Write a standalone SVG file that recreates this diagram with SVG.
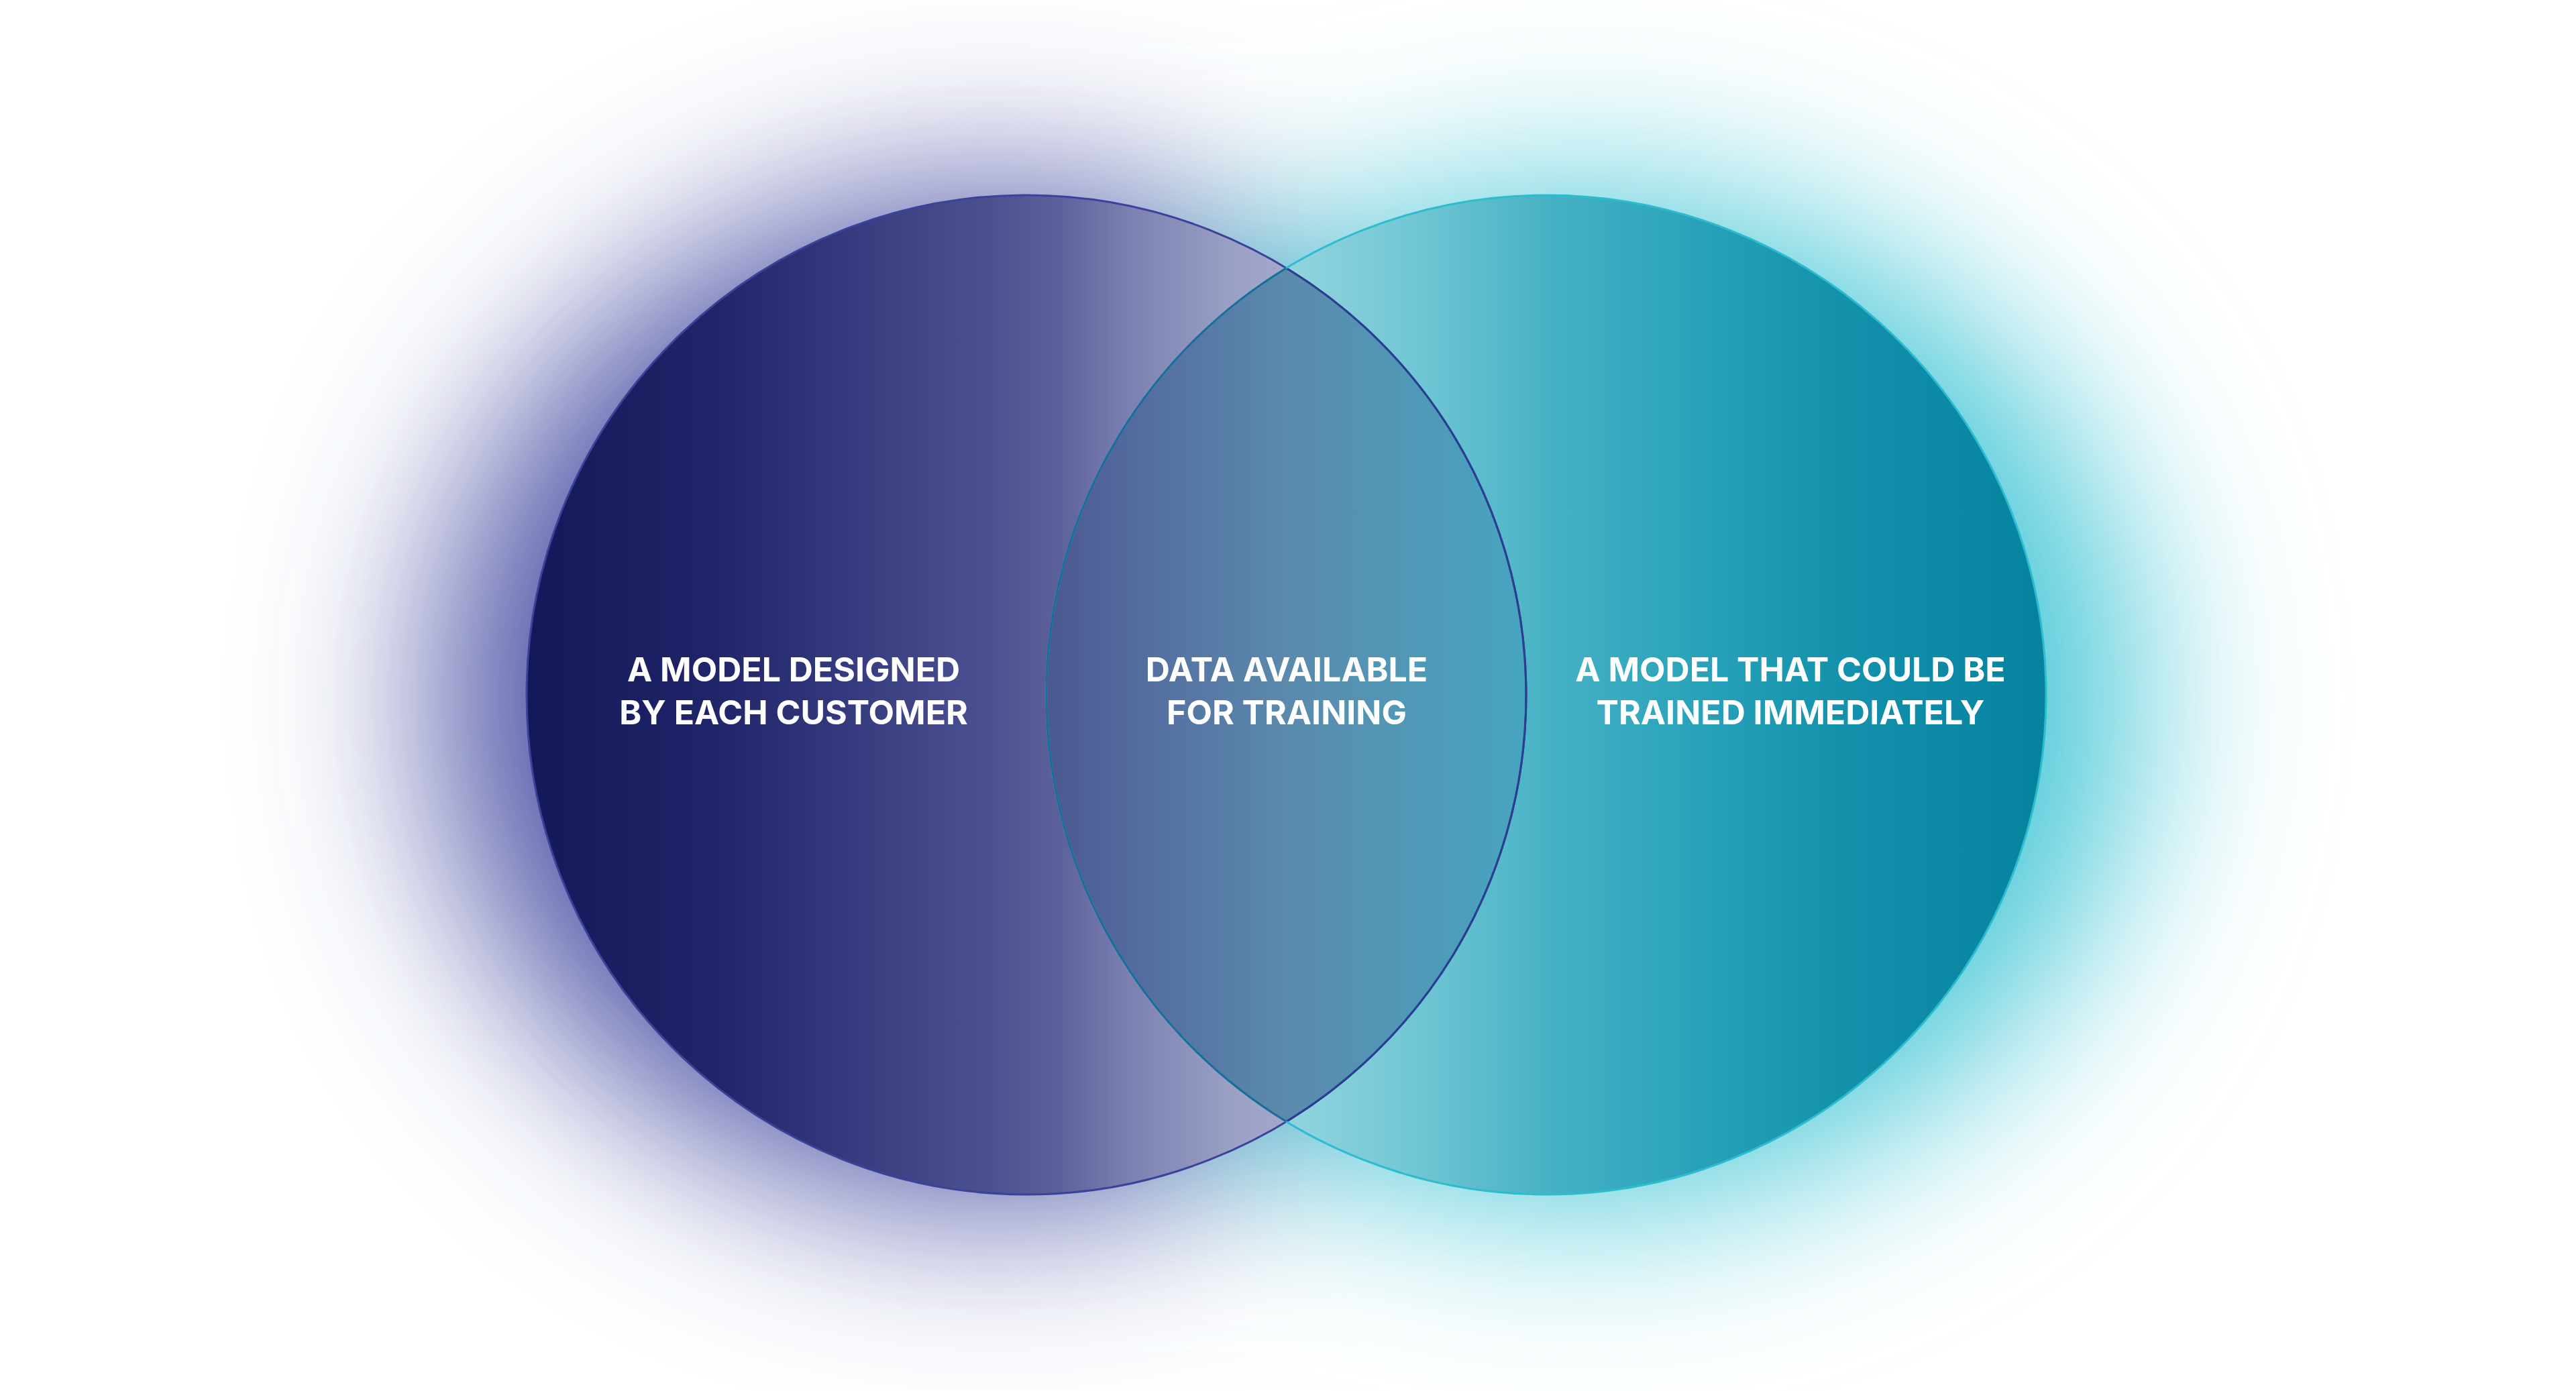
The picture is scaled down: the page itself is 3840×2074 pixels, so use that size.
<svg xmlns="http://www.w3.org/2000/svg" width="3840" height="2074" viewBox="0 0 3840 2074">
  <defs>
    <filter id="glowBlur" x="-50%" y="-50%" width="200%" height="200%">
      <feGaussianBlur stdDeviation="135"/>
    </filter>
    <linearGradient id="gLeft" gradientUnits="userSpaceOnUse" x1="786" y1="0" x2="2275" y2="0">
      <stop offset="0" stop-color="#121859"/>
      <stop offset="0.188" stop-color="#1f2568"/>
      <stop offset="0.325" stop-color="#353b7e"/>
      <stop offset="0.462" stop-color="#4b5190"/>
      <stop offset="0.531" stop-color="#5c609a"/>
      <stop offset="0.599" stop-color="#7a7fb1"/>
      <stop offset="0.702" stop-color="#9a9fc4"/>
      <stop offset="0.76" stop-color="#a4a8cb"/>
      <stop offset="1" stop-color="#b0b3d2"/>
    </linearGradient>
    <linearGradient id="gRight" gradientUnits="userSpaceOnUse" x1="1560" y1="0" x2="3051" y2="0">
      <stop offset="0" stop-color="#b0e2e8"/>
      <stop offset="0.24" stop-color="#92d4de"/>
      <stop offset="0.37" stop-color="#70c6d4"/>
      <stop offset="0.507" stop-color="#45b1c4"/>
      <stop offset="0.644" stop-color="#2aa3ba"/>
      <stop offset="0.78" stop-color="#1593ad"/>
      <stop offset="0.918" stop-color="#0a88a4"/>
      <stop offset="1" stop-color="#06829e"/>
    </linearGradient>
    <linearGradient id="gMid" gradientUnits="userSpaceOnUse" x1="1560" y1="0" x2="2275" y2="0">
      <stop offset="0" stop-color="#4b5891"/>
      <stop offset="0.2" stop-color="#546d9f"/>
      <stop offset="0.5" stop-color="#5a8aad"/>
      <stop offset="1" stop-color="#47a5c0"/>
    </linearGradient>
    <style>
      .lbl { font-family: Inter, "Liberation Sans", sans-serif; font-weight: 700; font-size: 50px; fill: #ffffff; text-anchor: middle; }
    </style>
  </defs>
  <rect width="3840" height="2074" fill="#ffffff"/>
  <g id="glows" filter="url(#glowBlur)">
    <ellipse cx="1480" cy="1040" rx="830" ry="760" fill="#4a50a3" opacity="0.95"/>
    <ellipse cx="2360" cy="1040" rx="830" ry="760" fill="#45c6d6" opacity="0.95"/>
  </g>
  <g id="node-left">
    <circle cx="1530" cy="1036" r="745" fill="url(#gLeft)"/>
  </g>
  <g id="node-right">
    <circle cx="2305" cy="1036" r="745" fill="url(#gRight)"/>
  </g>
  <g id="node-overlap">
    <path d="M1917.5,399.7 A745,745 0 0 1 1917.5,1672.3 A745,745 0 0 1 1917.5,399.7 Z" fill="url(#gMid)"/>
  </g>
  <g id="outlines" fill="none" stroke-width="3">
    <circle cx="1530" cy="1036" r="745" stroke="#3c419a"/>
    <path d="M1917.5,399.7 A745,745 0 0 1 1917.5,1672.3" stroke="#2a3f92"/>
    <circle cx="2305" cy="1036" r="745" stroke="#2cbccf"/>
    <path d="M1917.5,399.7 A745,745 0 0 0 1917.5,1672.3" stroke="#1d6b9a"/>
  </g>
  <g id="labels">
    <text class="lbl" x="1183" y="1016">A MODEL DESIGNED</text>
    <text class="lbl" x="1183" y="1080">BY EACH CUSTOMER</text>
    <text class="lbl" x="1918" y="1016">DATA AVAILABLE</text>
    <text class="lbl" x="1918" y="1080">FOR TRAINING</text>
    <text class="lbl" x="2669" y="1016">A MODEL THAT COULD BE</text>
    <text class="lbl" x="2669" y="1080">TRAINED IMMEDIATELY</text>
  </g>
</svg>
